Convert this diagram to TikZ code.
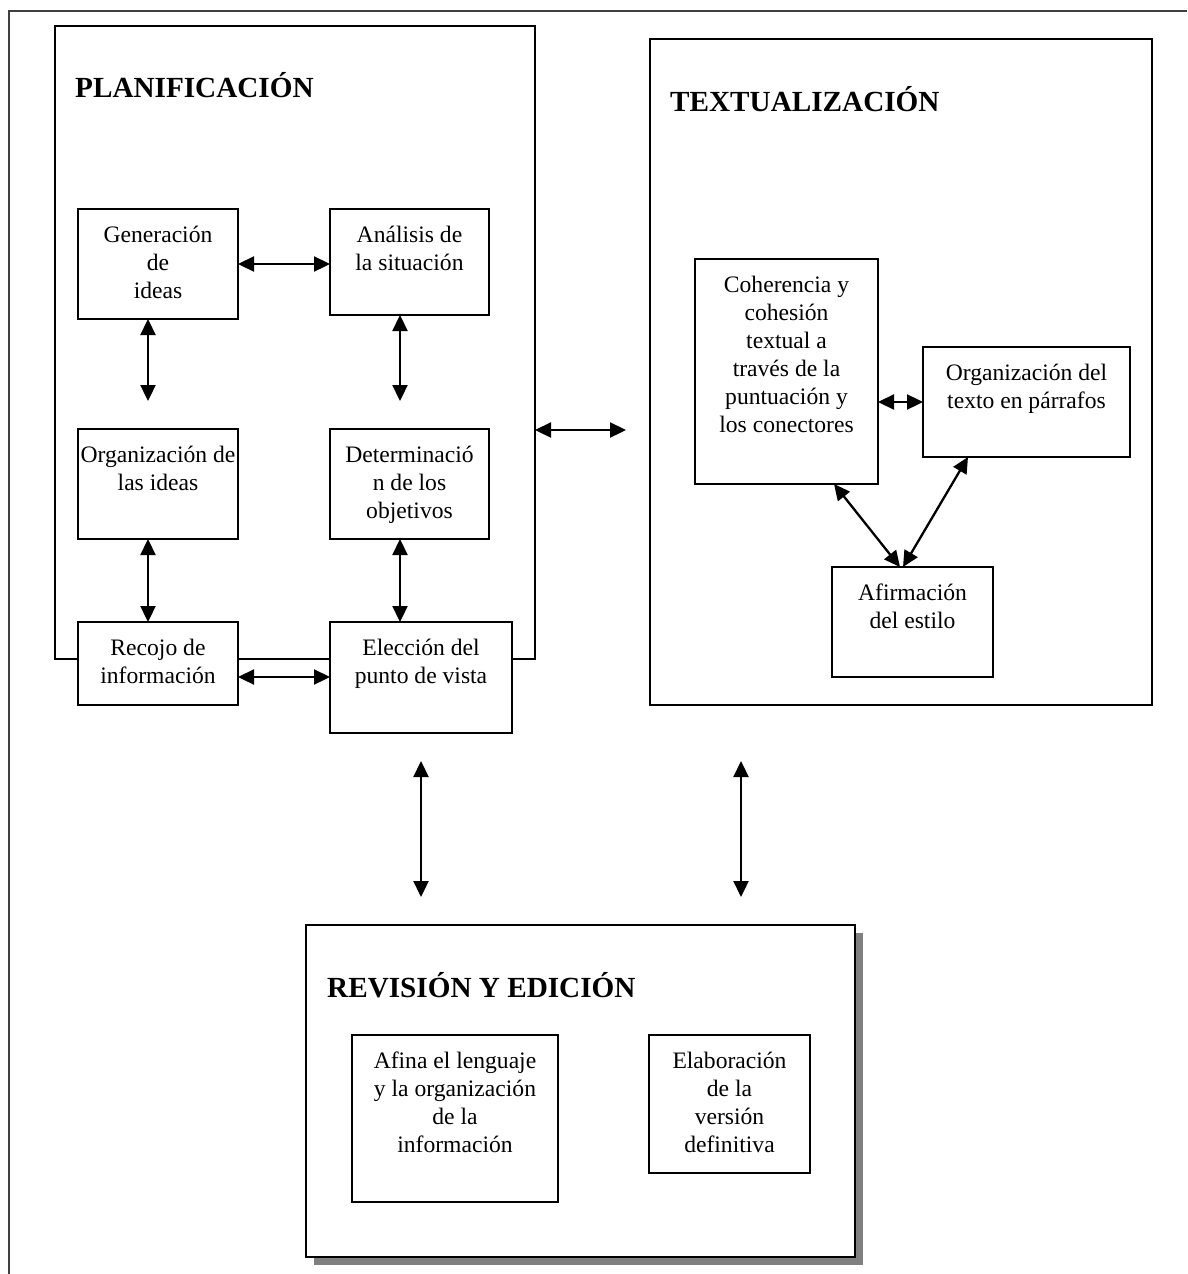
\documentclass[tikz,border=0pt]{standalone}
\usepackage{fontspec}
\setmainfont{Liberation Serif}
\usetikzlibrary{arrows.meta,calc}
\newcommand{\bxt}[3]{\parbox[t][#2][t]{#1}{\centering\rule{0pt}{33pt}#3}}
\begin{document}
\begin{tikzpicture}[x=1pt,y=-1pt,
 box/.style={draw, line width=2pt, fill=white, inner sep=0pt, outer sep=0pt, anchor=north west, font=\fontsize{23.6}{28}\selectfont},
 cont/.style={draw, line width=2pt, inner sep=0pt, outer sep=0pt, anchor=north west},
 ttl/.style={anchor=base west, inner sep=0pt, font=\fontsize{29.2}{34}\selectfont\bfseries},
 arr/.style={line width=2.3pt, {Triangle[length=16pt,width=15pt]}-{Triangle[length=16pt,width=15pt]}},
 frame/.style={line width=2pt, draw=black!75}]
\useasboundingbox (0,0) rectangle (1187,1274);
\draw[frame] (9,1274) -- (9,11) -- (1187,11);

% PLANIFICACION
\node[cont, minimum width=480pt, minimum height=633pt] (plan) at (55,26) {};
\node[ttl] (plant) at (75,97) {PLANIFICACIÓN};
\node[box] (gen) at (78,209) {\bxt{160pt}{110pt}{Generación\\de\\ideas}};
\node[box] (ana) at (330,209) {\bxt{159pt}{106pt}{Análisis de\\la situación}};
\node[box] (org) at (78,429) {\bxt{160pt}{110pt}{Organización de\\las ideas}};
\node[box] (det) at (330,429) {\bxt{159pt}{110pt}{Determinació\\n de los\\objetivos}};
\node[box] (rec) at (78,622) {\bxt{160pt}{83pt}{Recojo de\\información}};
\node[box] (ele) at (330,622) {\bxt{182pt}{111pt}{Elección del\\punto de vista}};

% TEXTUALIZACION
\node[cont, minimum width=502pt, minimum height=666pt] (tex) at (650,39) {};
\node[ttl] (text) at (670,111) {TEXTUALIZACIÓN};
\node[box] (coh) at (695,259) {\bxt{183pt}{225pt}{Coherencia y\\cohesión\\textual a\\través de la\\puntuación y\\los conectores}};
\node[box] (orgt) at (923,347) {\bxt{207pt}{110pt}{Organización del\\texto en párrafos}};
\node[box] (afi) at (832,567) {\bxt{161pt}{110pt}{Afirmación\\del estilo}};

% REVISION
\fill[black!50] (314,933) rectangle (863,1265);
\node[cont, fill=white, minimum width=549pt, minimum height=332pt] (rev) at (306,925) {};
\node[ttl] (revt) at (327,997) {REVISIÓN Y EDICIÓN};
\node[box] (afn) at (352,1035) {\bxt{206pt}{167pt}{Afina el lenguaje\\y la organización\\de la\\información}};
\node[box] (ela) at (649,1035) {\bxt{161pt}{138pt}{Elaboración\\de la\\versión\\definitiva}};

% coordinates
\coordinate (a1) at (148,401);
\coordinate (a2) at (400,401);
\coordinate (a3) at (280,677);
\coordinate (pt1) at (626,430);
\coordinate (l1) at (421,761);
\coordinate (l2) at (421,897);
\coordinate (r1) at (741,761);
\coordinate (r2) at (741,897);
\coordinate (c1) at ([xshift=139pt]coh.south west);
\coordinate (c2) at ([xshift=68pt]afi.north west);
\coordinate (c3) at ([xshift=45pt]orgt.south west);
\coordinate (c4) at ([xshift=71pt]afi.north west);

% arrows
\draw[arr] (gen.east) -- (gen.east -| ana.west);
\draw[arr] (gen.south -| a1) -- (a1);
\draw[arr] (ana.south -| a2) -- (a2);
\draw[arr] (org.south -| a1) -- (rec.north -| a1);
\draw[arr] (det.south -| a2) -- (ele.north -| a2);
\draw[arr] (rec.east |- a3) -- (ele.west |- a3);
\draw[arr] (plan.east |- pt1) -- (pt1);
\draw[arr] (coh.east |- orgt.west) -- (orgt.west);
\draw[arr] (c1) -- (c2);
\draw[arr] (c3) -- (c4);
\draw[arr] (l1) -- (l2);
\draw[arr] (r1) -- (r2);
\end{tikzpicture}
\end{document}
